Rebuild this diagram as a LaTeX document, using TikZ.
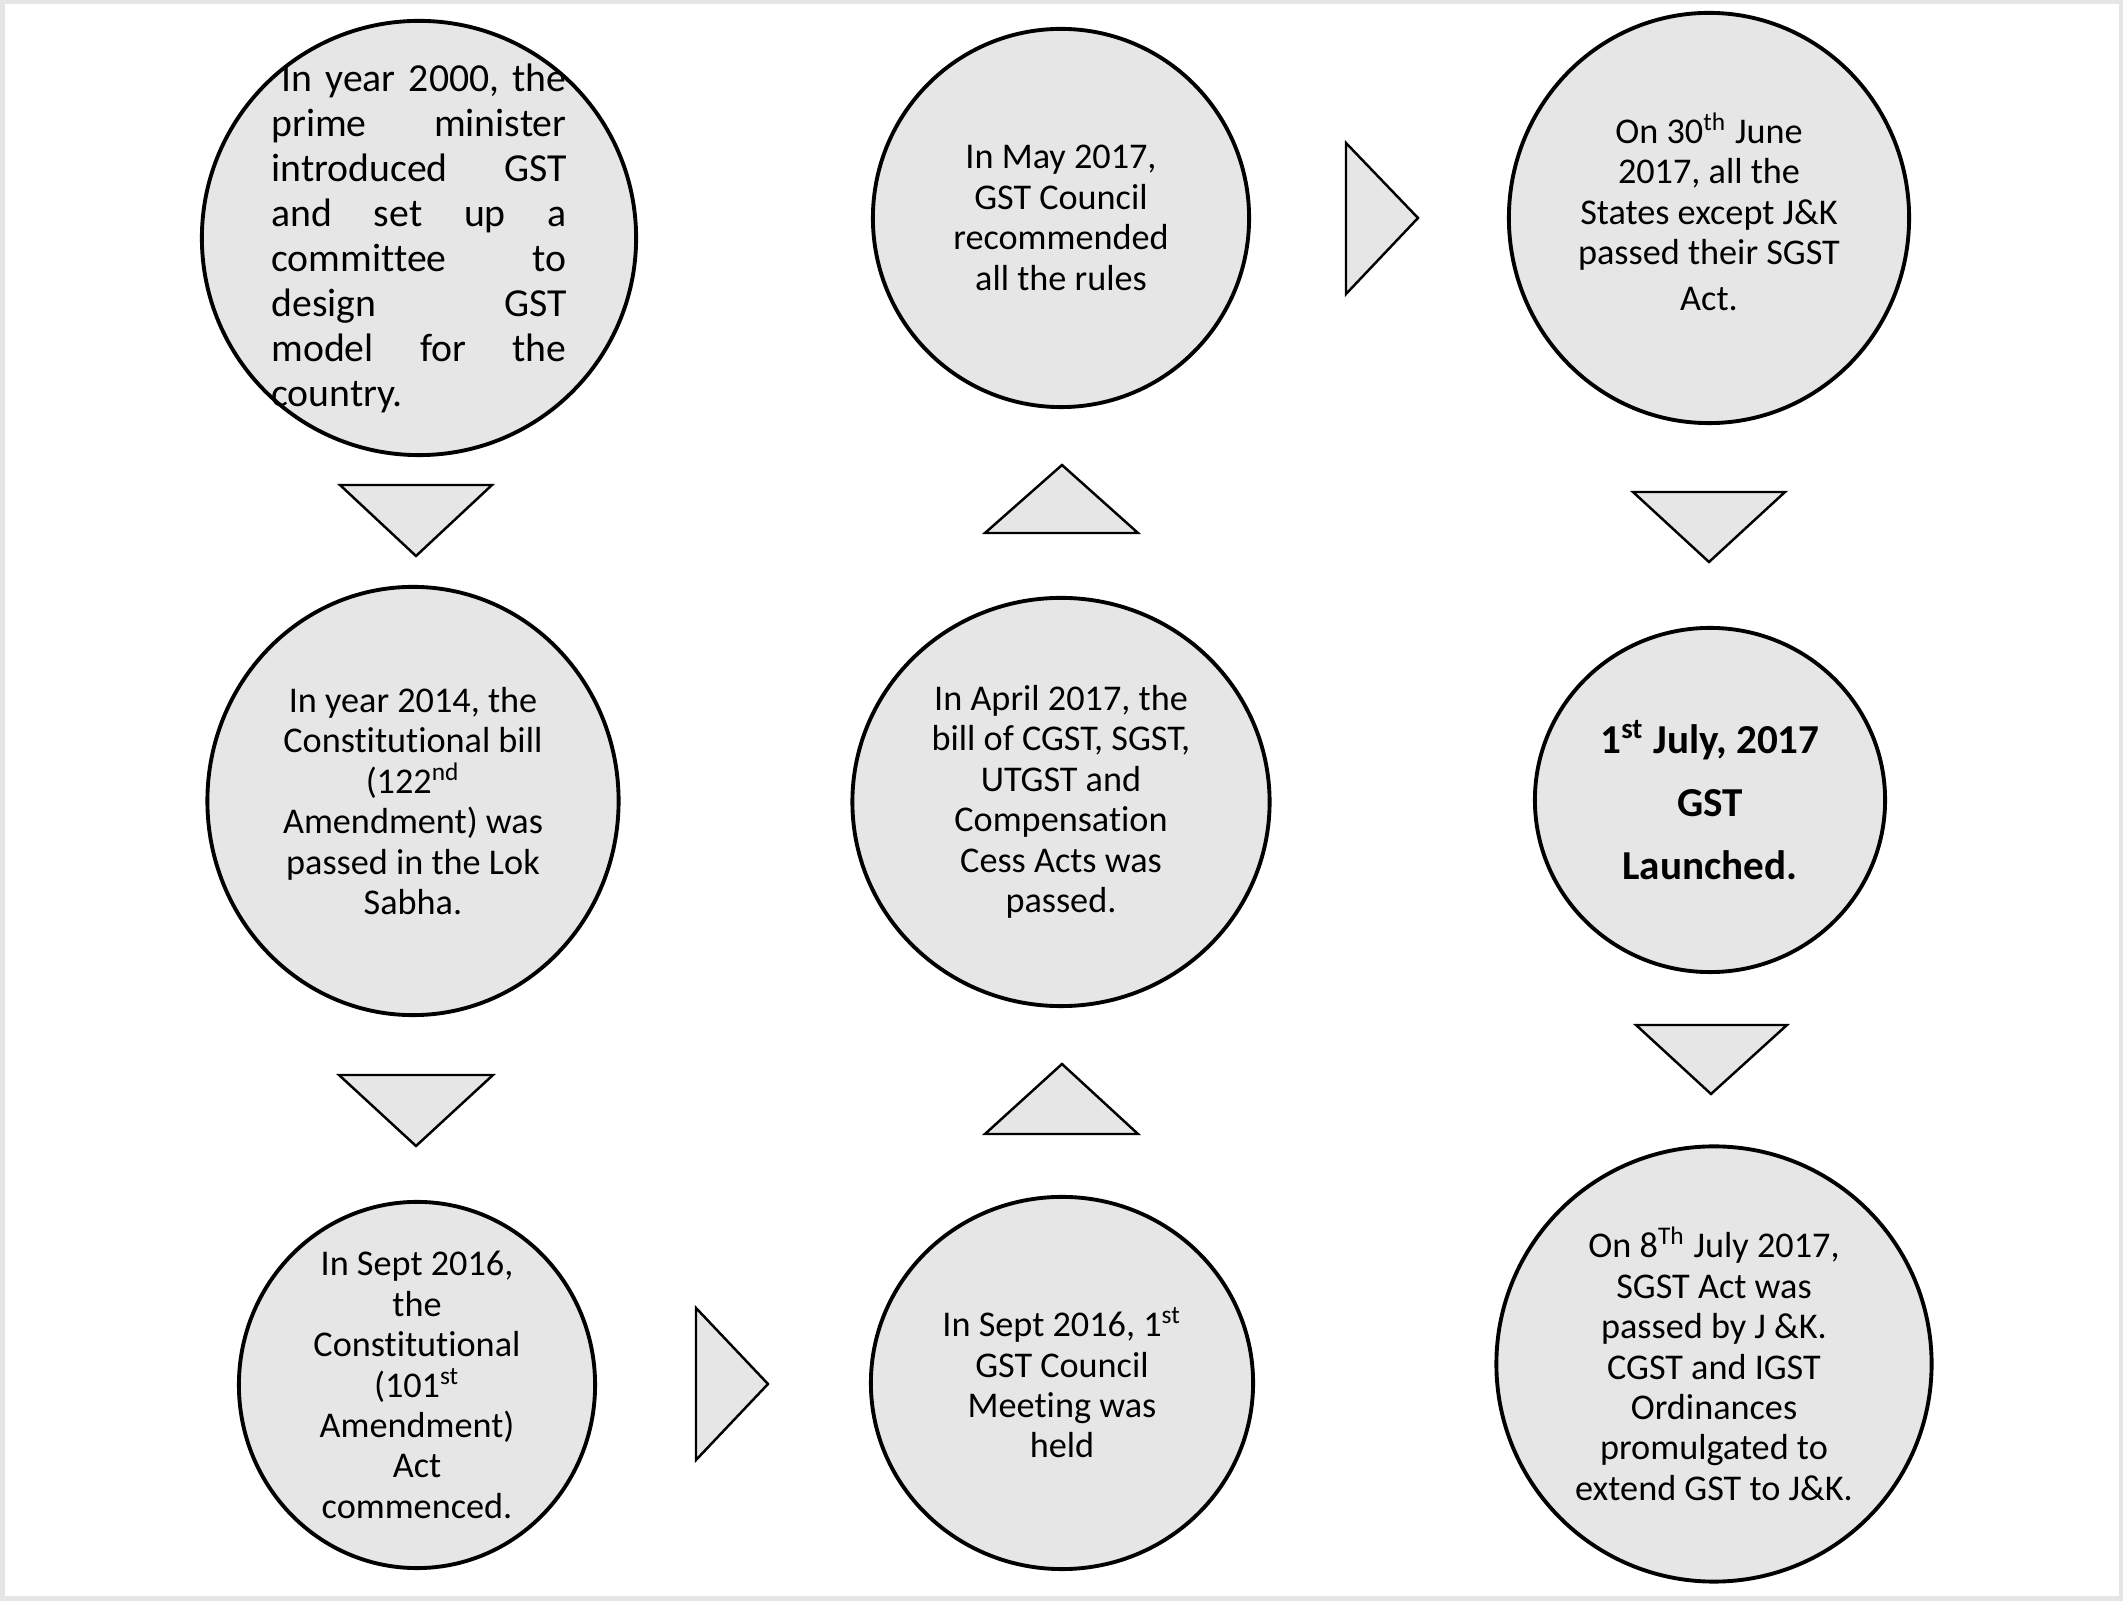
\documentclass[tikz,border=0pt]{standalone}
\usepackage{fontspec}
\setmainfont{Carlito}[Ligatures=NoCommon]
\usepackage{tikz}
\usetikzlibrary{shapes.geometric}
\definecolor{eventgray}{RGB}{231,230,230}
\definecolor{framegray}{RGB}{229,229,229}
\tikzset{gst_event/.style={ellipse, draw=black, line width=1.1pt, fill=eventgray, inner sep=0pt}}
\tikzset{gst_text/.style={align=center, inner sep=0pt, font=\fontsize{10.3}{11.5}\selectfont}}
\tikzset{gst_bold/.style={gst_text, font=\fontsize{11.7}{17.9}\selectfont\bfseries}}
\tikzset{gst_arrow/.style={draw=black, line width=0.7pt, fill=eventgray, line join=miter}}
\begin{document}
\begin{tikzpicture}[x=0.01cm, y=-0.01cm]
    \useasboundingbox (0,0) rectangle (2123,1601);
    \draw[framegray, line width=0.09cm] (0,0) rectangle (2123,1601);
    %\draw[help lines, step=100] (0,0) grid (2123,1601);

    % first column
    \node[gst_event, minimum width=4.34cm, minimum height=4.34cm,
        label={[gst_text, text width=2.95cm, align=left, font=\fontsize{11.3}{12.8}\selectfont]center:{%
            \hfill In year 2000, the\\
            prime\hfill minister\\
            introduced\hfill GST\\
            and\hfill set\hfill up\hfill a\\
            committee\hfill to\\
            design\hfill GST\\
            model\hfill for\hfill the\\
            country.}}] (y2000) at (419,238) {};
    \node[gst_event, minimum width=4.11cm, minimum height=4.28cm,
        label={[gst_text]center:{In year 2014, the\\ Constitutional bill\\ (122\textsuperscript{nd}\\ Amendment) was\\ passed in the Lok\\ Sabha.}}] (y2014) at (413,801) {};
    \node[gst_event, minimum width=3.56cm, minimum height=3.66cm,
        label={[gst_text]center:{In Sept 2016,\\ the\\ Constitutional\\ (101\textsuperscript{st}\\ Amendment)\\ Act\\ commenced.}}] (act2016) at (417,1385) {};

    % second column
    \node[gst_event, minimum width=3.82cm, minimum height=3.72cm,
        label={[gst_text]center:{In Sept 2016, 1\textsuperscript{st}\\ GST Council\\ Meeting was\\ held}}] (council) at (1062,1383) {};
    \node[gst_event, minimum width=4.17cm, minimum height=4.08cm,
        label={[gst_text]center:{In April 2017, the\\ bill of CGST, SGST,\\ UTGST and\\ Compensation\\ Cess Acts was\\ passed.}}] (bills) at (1061,802) {};
    \node[gst_event, minimum width=3.76cm, minimum height=3.78cm,
        label={[gst_text]center:{In May 2017,\\ GST Council\\ recommended\\ all the rules}}] (rules) at (1061,218) {};

    % third column
    \node[gst_event, minimum width=4.00cm, minimum height=4.10cm,
        label={[gst_text, yshift=0.06cm]center:{On 30\textsuperscript{th} June\\ 2017, all the\\ States except J\&K\\ passed their SGST\\[0.06cm] Act.}}] (states) at (1709,218) {};
    \node[gst_event, minimum width=3.50cm, minimum height=3.44cm,
        label={[gst_bold]center:{1\textsuperscript{st} July, 2017\\ GST\\ Launched.}}] (launch) at (1710,800) {};
    \node[gst_event, minimum width=4.35cm, minimum height=4.35cm,
        label={[gst_text]center:{On 8\textsuperscript{Th} July 2017,\\ SGST Act was\\ passed by J \&K.\\ CGST and IGST\\ Ordinances\\ promulgated to\\ extend GST to J\&K.}}] (jk) at (1714,1364) {};

    % arrow heads between the events
    \draw[gst_arrow] (340,485) -- (492,485) -- (416,556) -- cycle;
    \draw[gst_arrow] (339,1075) -- (493,1075) -- (416,1146) -- cycle;
    \draw[gst_arrow] (696,1308) -- (696,1460) -- (768,1384) -- cycle;
    \draw[gst_arrow] (985,1134) -- (1138,1134) -- (1062,1064) -- cycle;
    \draw[gst_arrow] (985,533) -- (1138,533) -- (1062,465) -- cycle;
    \draw[gst_arrow] (1346,143) -- (1346,294) -- (1418,218) -- cycle;
    \draw[gst_arrow] (1633,492) -- (1785,492) -- (1709,562) -- cycle;
    \draw[gst_arrow] (1636,1025) -- (1787,1025) -- (1711,1094) -- cycle;
\end{tikzpicture}
\end{document}
